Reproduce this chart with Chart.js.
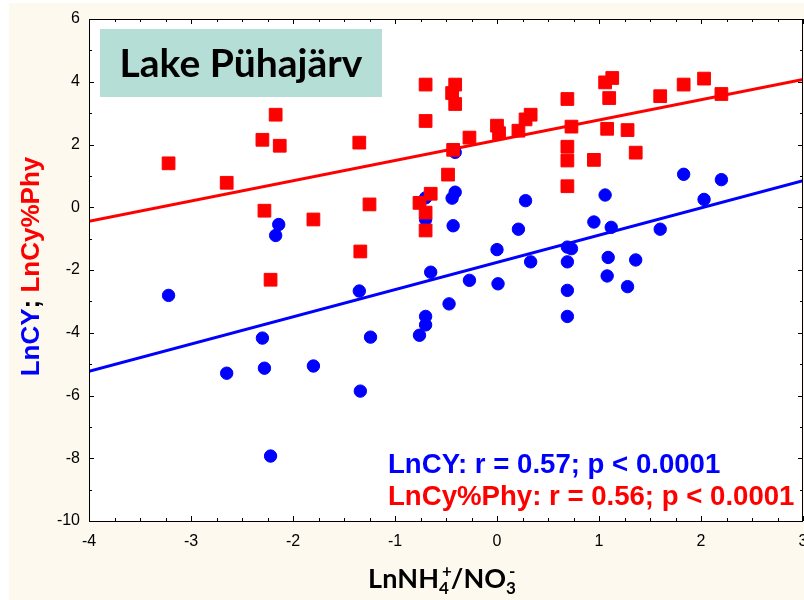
<!DOCTYPE html>
<html>
<head>
<meta charset="utf-8">
<script src="https://cdn.jsdelivr.net/npm/chart.js@4"></script>
<style>
  html, body { margin: 0; padding: 0; background: #ffffff; }
  #wrap { width: 804px; height: 600px; }
</style>
</head>
<body>
<div id="wrap"><canvas id="c" width="804" height="600"></canvas></div>
<script>
// ---- Data ----
const cyPhyX = [-3.22, -2.65, -2.30, -2.17, -2.13, -2.28, -2.22, -1.80, -1.35, -1.25, -1.34,
  -0.70, -0.41, -0.44, -0.41, -0.70, -0.27, -0.43, -0.48, -0.65, -0.76, -0.70, -0.70,
  0.00, 0.02, 0.21, 0.28, 0.33, 0.69, 0.73, 0.69, 0.69, 0.69, 0.95, 1.06, 1.13, 1.10, 1.08, 1.28, 1.36, 1.60, 1.83, 2.03, 2.20];
const cyPhyY = [1.40, 0.78, 2.15, 2.95, 1.96, -0.11, -2.31, -0.39, 2.06, 0.09, -1.41,
  3.91, 3.91, 3.64, 3.29, 2.75, 2.22, 1.83, 1.04, 0.43, 0.14, -0.17, -0.74,
  2.60, 2.36, 2.44, 2.80, 2.95, 3.45, 2.57, 1.93, 1.49, 0.67, 1.51, 3.98, 4.12, 3.48, 2.50, 2.46, 1.74, 3.54, 3.91, 4.10, 3.61];

const cyX = [-3.22, -2.65, -2.30, -2.28, -2.22, -2.14, -2.17, -1.80, -1.35, -1.34, -1.24,
  -0.76, -0.70, -0.70, -0.47, -0.70, -0.70, -0.41, -0.41, -0.44, -0.43, -0.65, -0.27,
  0.00, 0.01, 0.21, 0.28, 0.33, 0.69, 0.73, 0.69, 0.69, 0.69, 0.95, 1.06, 1.12, 1.09, 1.08, 1.28, 1.36, 1.60, 1.83, 2.03, 2.20];
const cyY = [-2.81, -5.29, -4.17, -5.13, -7.93, -0.55, -0.90, -5.06, -2.67, -5.86, -4.14,
  -4.08, -3.75, -3.48, -3.08, 0.30, -0.39, 1.75, 0.48, 0.29, -0.59, -2.07, -2.33,
  -1.35, -2.44, -0.70, 0.21, -1.74, -1.27, -1.32, -1.74, -2.65, -3.48, -0.47, 0.39, -0.64, -1.60, -2.19, -2.53, -1.68, -0.70, 1.05, 0.25, 0.88];

// regression line end points
const fitX = [-4, 3];
const cyPhyFitY = [-0.45, 4.07];
const cyFitY = [-5.23, 0.85];

const xRange = [-4, 3];
const yRange = [-10, 6];

const titleText = 'Lake Pühajärv';
const statCy = 'LnCY: r = 0.57; p < 0.0001';
const statCyPhy = 'LnCy%Phy: r = 0.56; p < 0.0001';

const BLUE = '#0000ff';
const RED = '#ff0000';

const pts = (xs, ys) => xs.map((x, i) => ({ x: x, y: ys[i] }));

const decor = {
  id: 'decor',
  beforeDraw(chart) {
    const ctx = chart.ctx, a = chart.chartArea;
    ctx.save();
    ctx.fillStyle = '#ffffff';
    ctx.fillRect(0, 0, chart.width, chart.height);
    ctx.fillStyle = '#fdf9ee';
    ctx.fillRect(9, 3, chart.width - 9, chart.height - 3);
    ctx.fillStyle = '#ffffff';
    ctx.fillRect(a.left, a.top, a.right - a.left, a.bottom - a.top);
    ctx.restore();
  },
  afterDraw(chart) {
    const ctx = chart.ctx, a = chart.chartArea;
    const xs = chart.scales.x, ys = chart.scales.y;
    ctx.save();
    // frame
    ctx.strokeStyle = '#000';
    ctx.lineWidth = 1;
    ctx.strokeRect(a.left + 0.5, a.top + 0.5, a.right - a.left - 1, a.bottom - a.top);
    // inward ticks on all four sides
    ctx.beginPath();
    for (let v = xRange[0]; v <= xRange[1] + 1e-9; v += 0.25) {
      const px = Math.round(xs.getPixelForValue(v)) + 0.5;
      const len = Math.abs(v - Math.round(v)) < 1e-9 ? 5 : 3;
      ctx.moveTo(px, a.bottom); ctx.lineTo(px, a.bottom - len);
      ctx.moveTo(px, a.top); ctx.lineTo(px, a.top + len);
    }
    for (let v = yRange[0]; v <= yRange[1]; v += 1) {
      const py = Math.round(ys.getPixelForValue(v)) + 0.5;
      const len = (v % 2 === 0) ? 5 : 3;
      ctx.moveTo(a.left, py); ctx.lineTo(a.left + len, py);
      ctx.moveTo(a.right, py); ctx.lineTo(a.right - len, py);
    }
    ctx.stroke();

    // title box
    ctx.fillStyle = '#b5ded7';
    ctx.fillRect(100, 29, 282, 68);
    ctx.fillStyle = '#000';
    ctx.font = 'bold 39px Lato';
    ctx.textAlign = 'center';
    ctx.textBaseline = 'alphabetic';
    ctx.fillText(titleText, 241, 77);

    // statistics
    ctx.textAlign = 'left';
    ctx.font = 'bold 27.6px "Liberation Sans"';
    ctx.fillStyle = BLUE;
    ctx.fillText(statCy, 388, 473);
    ctx.fillStyle = RED;
    ctx.fillText(statCyPhy, 388, 505);

    // y axis title (rotated, multi-coloured)
    ctx.save();
    ctx.translate(39, 266.5);
    ctx.rotate(-Math.PI / 2);
    ctx.font = 'bold 26px "Liberation Sans"';
    const parts = [['LnCY', BLUE], ['; ', '#000'], ['LnCy%Phy', RED]];
    let total = parts.reduce((s, p) => s + ctx.measureText(p[0]).width, 0);
    let x = -total / 2;
    for (const p of parts) {
      ctx.fillStyle = p[1];
      ctx.fillText(p[0], x, 0);
      x += ctx.measureText(p[0]).width;
    }
    ctx.restore();

    // x axis title with sub/superscripts
    const main = 'bold 27px Lato', small = 'bold 17px Lato';
    const xparts = [
      ['Ln', main, 0], ['NH', main, 0], ['4', small, 6], ['+', small, -11],
      ['/NO', main, 0], ['3', small, 6], ['-', small, -11]
    ];
    const widths = xparts.map(p => { ctx.font = p[1]; return ctx.measureText(p[0]).width; });
    const adv = [];
    for (let i = 0; i < xparts.length; i++) {
      if (xparts[i][2] < 0 && i > 0 && xparts[i - 1][2] > 0) {
        adv.push(Math.max(0, widths[i] - widths[i - 1]) + 2);
      } else adv.push(widths[i]);
    }
    const w = adv.reduce((s, v) => s + v, 0);
    let cx = 443 - w / 2;
    let prevStart = cx;
    ctx.fillStyle = '#000';
    for (let i = 0; i < xparts.length; i++) {
      const p = xparts[i];
      ctx.font = p[1];
      let startX = cx;
      if (p[2] < 0 && i > 0 && xparts[i - 1][2] > 0) startX = prevStart + 3;
      ctx.fillText(p[0], startX, 588 + p[2]);
      prevStart = startX;
      cx += adv[i];
    }
    ctx.restore();
  }
};

new Chart(document.getElementById('c'), {
  type: 'scatter',
  data: {
    datasets: [
      {
        label: 'LnCy%Phy',
        data: pts(cyPhyX, cyPhyY),
        pointStyle: 'rect',
        pointRadius: 9,
        pointBackgroundColor: RED,
        pointBorderColor: RED,
        pointBorderWidth: 1,
        showLine: false
      },
      {
        label: 'LnCY',
        data: pts(cyX, cyY),
        pointStyle: 'circle',
        pointRadius: 6.2,
        pointBackgroundColor: BLUE,
        pointBorderColor: BLUE,
        pointBorderWidth: 1,
        showLine: false
      },
      {
        label: 'LnCy%Phy fit',
        data: pts(fitX, cyPhyFitY),
        showLine: true,
        borderColor: RED,
        borderWidth: 3,
        pointRadius: 0,
        fill: false
      },
      {
        label: 'LnCY fit',
        data: pts(fitX, cyFitY),
        showLine: true,
        borderColor: BLUE,
        borderWidth: 3,
        pointRadius: 0,
        fill: false
      }
    ]
  },
  options: {
    responsive: false,
    animation: false,
    devicePixelRatio: 1,
    layout: { autoPadding: false, padding: { left: 0, top: 19, right: 1, bottom: 0 } },
    plugins: { legend: { display: false }, tooltip: { enabled: false } },
    scales: {
      x: {
        type: 'linear', min: xRange[0], max: xRange[1],
        grid: { display: false, drawTicks: false },
        border: { display: false },
        ticks: { stepSize: 1, color: '#000', padding: 11, font: { family: '"Liberation Sans"', size: 16 } },
        afterFit(s) { s.height = 79; s.paddingLeft = 0; s.paddingRight = 0; }
      },
      y: {
        type: 'linear', min: yRange[0], max: yRange[1],
        grid: { display: false, drawTicks: false },
        border: { display: false },
        ticks: { stepSize: 2, color: '#000', padding: 9, font: { family: '"Liberation Sans"', size: 16 } },
        afterFit(s) { s.width = 89; s.paddingTop = 0; s.paddingBottom = 0; }
      }
    }
  },
  plugins: [decor]
});
</script>
</body>
</html>
